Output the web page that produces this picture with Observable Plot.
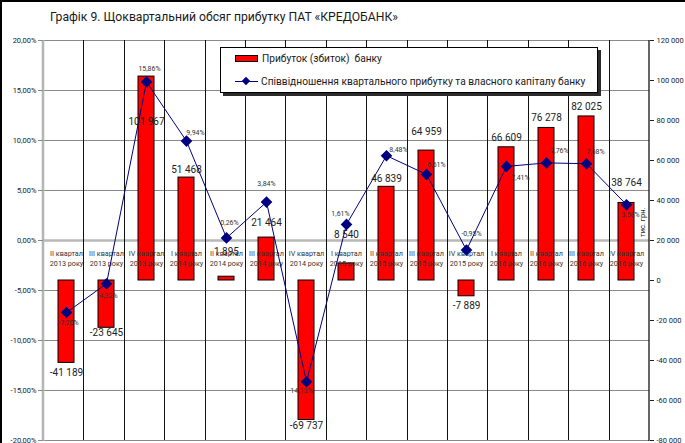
<!DOCTYPE html>
<html>
<head>
<meta charset="utf-8">
<script src="https://cdn.jsdelivr.net/npm/d3@7"></script>
<script src="https://cdn.jsdelivr.net/npm/@observablehq/plot@0.6"></script>
<style>
  html, body { margin: 0; padding: 0; background: #fff; }
  #wrap { position: relative; width: 685px; height: 443px; overflow: hidden; font-family: Roboto, "Noto Sans", sans-serif; }
  #frame { position: absolute; left: 0; top: 0; width: 700px; height: 460px; border-left: 2px solid #000; border-top: 2px solid #000; box-sizing: border-box; pointer-events: none; z-index: 5; }
  #title { position: absolute; left: 50px; top: 10px; font-size: 12.2px; color: #1a1a1a; white-space: nowrap; z-index: 4; }
  #legend { position: absolute; left: 220px; top: 47px; width: 376px; height: 44px; background: #fff; border: 1px solid #000; box-shadow: 3px 3px 0 #2b2b2b; z-index: 4; font-size: 10.2px; color: #1a1a1a; }
  .li { position: absolute; left: 14px; display: flex; align-items: center; white-space: nowrap; }
  .sw { width: 21px; height: 5px; background: #ff0000; border: 1px solid #000; margin-right: 4px; }
  .ln { position: relative; width: 23px; height: 10px; margin-right: 3px; }
  .ln:before { content: ""; position: absolute; left: 0; right: 0; top: 4.5px; height: 1px; background: #000080; }
  .ln:after { content: ""; position: absolute; left: 8px; top: 1.5px; width: 6px; height: 6px; background: #000080; transform: rotate(45deg); }
  svg { position: absolute; left: 0; top: 0; }
</style>
</head>
<body>
<div id="wrap">
  <div id="frame"></div>
  <div id="title">Графік 9. Щоквартальний обсяг прибутку ПАТ «КРЕДОБАНК»</div>
  <div id="legend">
    <div class="li" style="top:5px"><div class="sw"></div>Прибуток (збиток)&nbsp; банку</div>
    <div class="li" style="top:28px"><div class="ln"></div>Співвідношення квартального прибутку та власного капіталу банку</div>
  </div>
</div>
<script>
// ---- data ----
const quarters = ["II квартал","III квартал","IV квартал","I квартал","II квартал","III квартал","IV квартал",
                  "I квартал","II квартал","III квартал","IV квартал","I квартал","II квартал","III квартал","IV квартал"];
const years = ["2013 року","2013 року","2013 року","2014 року","2014 року","2014 року","2014 року",
               "2015 року","2015 року","2015 року","2015 року","2016 року","2016 року","2016 року","2016 року"];
const profit = [-41189, -23645, 101967, 51468, 1895, 21464, -69737, 8540, 46839, 64959, -7889, 66609, 76278, 82025, 38764];
const ratio = [-7.20, -4.32, 15.86, 9.94, 0.26, 3.84, -14.13, 1.61, 8.48, 6.61, -0.95, 7.41, 7.76, 7.68, 3.58];
const leftTicks = [-20, -15, -10, -5, 0, 5, 10, 15, 20];
const rightTicks = [-80000, -60000, -40000, -20000, 0, 20000, 40000, 60000, 80000, 100000, 120000];
const rightUnit = "тис. грн.";

// ---- helpers ----
// right axis (-80000..120000) is aligned to left axis (-20%..20%)
const toPct = v => (v - 20000) / 5000;
const fromPct = p => p * 5000 + 20000;
const fmtNum = v => (v < 0 ? "-" : "") + String(Math.round(Math.abs(v))).replace(/\B(?=(\d{3})+(?!\d))/g, " ");
const fmtPct = p => p.toFixed(2).replace(".", ",") + "%";

const data = quarters.map((q, i) => ({key: q + " " + years[i], q, year: years[i], profit: profit[i], ratio: ratio[i], i}));
const keys = data.map(d => d.key);

// label layout (pixel nudges, as placed in the original)
const ratioNudge = [[2,10],[1,12],[3,-13],[9,-8],[3,-15],[0,-18],[-6,9],[-6,-11],[12,-6],[10,-10],[5,-16],[14,11],[13,-12],[9,-12],[4,10]];
const profitNudge = [[0,10],[0,5],[0,45],[0,-8],[0,-25],[0,-15],[0,6],[0,-29],[0,-8],[0,-19],[0,10],[0,-9],[0,-10],[0,-10],[0,-20]];

const W = 685, H = 443, mL = 43, mR = 36, mT = 40, mB = 3;
const font = "Roboto, 'Noto Sans', sans-serif";

// vertical category separators + axis lines
function frameLines(index, scales, values, dims) {
  const g = d3.create("svg:g");
  const n = keys.length;
  const x0 = dims.marginLeft, x1 = dims.width - dims.marginRight;
  const step = (x1 - x0) / n;
  const y0 = dims.marginTop, y1 = dims.height - dims.marginBottom;
  for (let k = 1; k < n; k++) {
    const x = Math.round(x0 + k * step) + 0.5;
    g.append("line").attr("x1", x).attr("x2", x).attr("y1", y0).attr("y2", y1).attr("stroke", "#111").attr("stroke-width", 1);
  }
  g.append("line").attr("x1", x0).attr("x2", x0).attr("y1", y0).attr("y2", y1 + 1).attr("stroke", "#b4b4b4").attr("stroke-width", 2.5);
  g.append("line").attr("x1", x1).attr("x2", x1).attr("y1", y0).attr("y2", y1 + 1).attr("stroke", "#000").attr("stroke-width", 1.2);
  return g.node();
}

const chart = Plot.plot({
  width: W, height: H,
  marginLeft: mL, marginRight: mR, marginTop: mT, marginBottom: mB,
  style: {fontFamily: font, background: "transparent", overflow: "visible"},
  x: {type: "band", domain: keys, paddingInner: 0.6, paddingOuter: 0.3, axis: null},
  y: {domain: [-20, 20], axis: null},
  marks: [
    Plot.ruleY(leftTicks, {stroke: "#8a8a8a", strokeWidth: 1}),
    Plot.ruleY([0], {stroke: "#b8b8b8", strokeWidth: 2.5}),
    frameLines,
    Plot.barY(data, {x: "key", y1: () => toPct(0), y2: d => toPct(d.profit), fill: "#ff0000", stroke: "#000", strokeWidth: 1}),
    Plot.text(data, {x: "key", y: () => 0, text: d => d.q + "\n" + d.year, dy: 17, fontSize: 7.2, lineHeight: 1.45, fill: "#333"}),
    Plot.line(data, {x: "key", y: "ratio", stroke: "#000080", strokeWidth: 1}),
    Plot.dot(data, {x: "key", y: "ratio", symbol: "square", rotate: 45, r: 3.8, fill: "#000080", stroke: "#000080"}),
    ...data.map(d => Plot.text([d], {x: "key", y: "ratio", text: e => fmtPct(e.ratio),
      dx: ratioNudge[d.i][0], dy: ratioNudge[d.i][1], fontSize: 7, fill: "#333"})),
    ...data.map(d => Plot.text([d], {x: "key", y: e => toPct(e.profit), text: e => fmtNum(e.profit),
      dx: profitNudge[d.i][0], dy: profitNudge[d.i][1], fontSize: 10, fill: "#222"})),
    Plot.axisY({anchor: "left", label: null, ticks: leftTicks, tickFormat: fmtPct, tickSize: 5, tickPadding: 2, fontSize: 7.5, color: "#222", stroke: "#8a8a8a"}),
    Plot.axisY({anchor: "right", label: null, ticks: rightTicks.map(toPct), tickFormat: p => fmtNum(fromPct(p)), tickSize: 4, tickPadding: 3, fontSize: 7.5, color: "#222"}),
    Plot.text([rightUnit], {frameAnchor: "right", text: d => d, rotate: -90, dx: -7, dy: -33, fontSize: 7.5, fill: "#222"})
  ]
});
document.getElementById("wrap").appendChild(chart);
</script>
</body>
</html>
